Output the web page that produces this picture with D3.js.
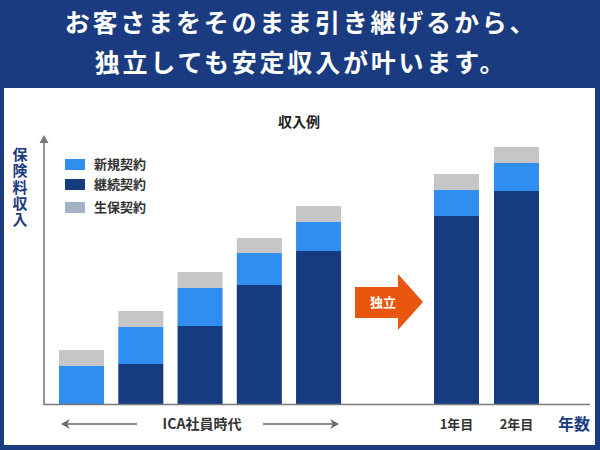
<!DOCTYPE html>
<html><head><meta charset="utf-8">
<script src="https://cdn.jsdelivr.net/npm/d3@7"></script>
<style>body{margin:0;background:#1a3b80;}svg{display:block;}text{font-family:"Noto Sans CJK JP","Noto Sans",sans-serif;}</style>
</head><body><svg id="c" width="600" height="450"></svg>
<script>
// Data
const headerLines = ["お客さまをそのまま引き継げるから、", "独立しても安定収入が叶います。"];
const chartTitle = "収入例";
const yTitle = "保険料収入";
const seriesNames = ["新規契約", "継続契約", "生保契約"];
const icaCategories = ["1", "2", "3", "4", "5"];
const indepCategories = ["1年目", "2年目"];
// values (relative income units)
const continuingValues = [0, 40, 78, 119, 153, 188, 213];
const newValues = [38, 37, 38, 32, 29, 26, 28];
const lifeValues = [16, 16, 16, 15, 16, 16, 16];
const icaLabel = "ICA社員時代";
const independLabel = "独立";
const xTitle = "年数";

const colors = {"新規契約": "#2f8ef0", "継続契約": "#173b80", "生保契約": "#c6c6c6"};
const legendColors = {"新規契約": "#2f8ef0", "継続契約": "#173b80", "生保契約": "#a3b2c5"};

const svg = d3.select("#c");
svg.append("rect").attr("x",0).attr("y",0).attr("width",600).attr("height",450).attr("fill","#1a3b80");
svg.append("rect").attr("x",4).attr("y",88).attr("width",591).attr("height",357).attr("fill","#ffffff");

// header
svg.selectAll("text.hdr").data(headerLines).join("text")
  .attr("class","hdr").attr("x",301).attr("y",(d,i)=>i===0?32:72)
  .attr("text-anchor","middle").attr("fill","#fff")
  .attr("font-size",25).attr("font-weight",700).attr("letter-spacing",2.8)
  .text(d=>d);

// scales
const y = d3.scaleLinear().domain([0, 268]).range([404, 136]);
const x1 = d3.scaleBand().domain(icaCategories).range([51.9, 348.2]).paddingInner(0.24).paddingOuter(0.12);
const x2 = d3.scaleBand().domain(indepCategories).range([426.5, 546.5]).paddingInner(0.25).paddingOuter(0.125);

const allCats = icaCategories.concat(indepCategories);
const rows = allCats.map((c,i)=>({cat:c, idx:i, "継続契約":continuingValues[i], "新規契約":newValues[i], "生保契約":lifeValues[i]}));
const stack = d3.stack().keys(["継続契約","新規契約","生保契約"])(rows);
const xPos = d => d.data.idx < 5 ? x1(d.data.cat) : x2(d.data.cat);
const bw = d => d.data.idx < 5 ? x1.bandwidth() : x2.bandwidth();

svg.append("g").selectAll("g").data(stack).join("g")
  .attr("fill", s=>colors[s.key])
  .selectAll("rect").data(s=>s).join("rect")
  .attr("x", xPos).attr("width", bw)
  .attr("y", d=>y(d[1])).attr("height", d=>y(d[0])-y(d[1]));

// axes
const axisColor = "#7a7a7a";
svg.append("line").attr("x1",44).attr("x2",44).attr("y1",y(0)).attr("y2",140).attr("stroke",axisColor).attr("stroke-width",1.6);
svg.append("path").attr("d","M44,135 L39.5,143 L48.5,143 Z").attr("fill",axisColor);
svg.append("line").attr("x1",43).attr("x2",590).attr("y1",y(0)+0.5).attr("y2",y(0)+0.5).attr("stroke",axisColor).attr("stroke-width",1.6);

// chart title
svg.append("text").attr("x",299).attr("y",127).attr("text-anchor","middle").attr("font-size",14).attr("font-weight",700).attr("fill","#222").text(chartTitle);

// y title vertical
svg.append("text").attr("x",20).attr("y",147)
  .style("writing-mode","vertical-rl").attr("letter-spacing",1.3)
  .attr("font-size",15).attr("font-weight",700).attr("fill","#1a3b80").text(yTitle);

// legend
const legY = [159, 179, 202];
const leg = svg.append("g");
seriesNames.forEach((n,i)=>{
  leg.append("rect").attr("x",65).attr("y",legY[i]).attr("width",20).attr("height",11).attr("fill",legendColors[n]);
  leg.append("text").attr("x",94).attr("y",legY[i]+10).attr("font-size",13).attr("font-weight",700).attr("fill","#333").text(n);
});

// orange arrow
svg.append("path").attr("d","M355,287 L398,287 L398,274 L423,302 L398,330 L398,318 L355,318 Z").attr("fill","#e8560f");
svg.append("text").attr("x",383).attr("y",307).attr("text-anchor","middle").attr("font-size",13).attr("font-weight",700).attr("fill","#fff").text(independLabel);

// bottom labels
svg.append("text").attr("x",202).attr("y",428.5).attr("text-anchor","middle").attr("font-size",14).attr("font-weight",700).attr("fill","#333").text(icaLabel);
const arrowColor = "#6a6a6a";
svg.append("line").attr("x1",66).attr("x2",137).attr("y1",424).attr("y2",424).attr("stroke",arrowColor).attr("stroke-width",1.5);
svg.append("path").attr("d","M61,424 L70,419 L67,424 L70,429 Z").attr("fill",arrowColor);
svg.append("line").attr("x1",263).attr("x2",334).attr("y1",424).attr("y2",424).attr("stroke",arrowColor).attr("stroke-width",1.5);
svg.append("path").attr("d","M339,424 L330,419 L333,424 L330,429 Z").attr("fill",arrowColor);

svg.selectAll("text.yr").data(indepCategories).join("text").attr("class","yr")
  .attr("x",d=>x2(d)+x2.bandwidth()/2).attr("y",429).attr("text-anchor","middle")
  .attr("font-size",13).attr("font-weight",700).attr("fill","#333").text(d=>d);
svg.append("text").attr("x",574).attr("y",430).attr("text-anchor","middle").attr("font-size",16).attr("font-weight",700).attr("fill","#1a3b80").text(xTitle);
</script></body></html>
